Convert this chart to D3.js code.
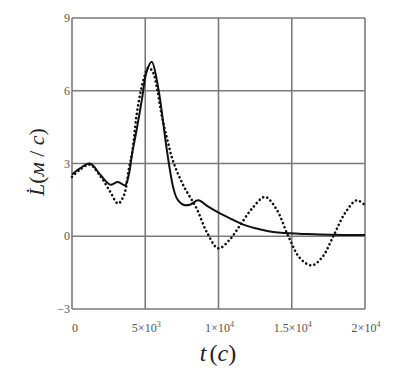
<!DOCTYPE html>
<html>
<head>
<meta charset="utf-8">
<script src="https://cdn.jsdelivr.net/npm/d3@7"></script>
<style>
  body { margin: 0; background: #fff; }
  svg { display: block; }
  text { font-family: "Liberation Serif", "Times New Roman", "DejaVu Serif", serif; }
</style>
</head>
<body>
<script>
// values
const solidT = [0, 546, 1229, 1911, 2594, 3140, 3618, 3900, 4100, 4416, 4760, 5100, 5440, 5891, 6200, 6464, 6915, 7170, 7600, 8055, 8621, 9300, 10100, 10900, 11690, 12600, 13515, 14880, 16000, 17610, 20000];
const solidV = [2.55, 2.8, 3.0, 2.55, 2.13, 2.24, 2.1, 2.6, 3.4, 4.4, 5.6, 6.8, 7.2, 6.1, 4.8, 3.6, 2.0, 1.55, 1.3, 1.3, 1.48, 1.22, 0.94, 0.7, 0.48, 0.32, 0.2, 0.12, 0.09, 0.06, 0.05];
const dotT = [0, 546, 1229, 1911, 2594, 3140, 3550, 3890, 4120, 4410, 4700, 4980, 5200, 5500, 5800, 6120, 6500, 6915, 7600, 8510, 9195, 9986, 10750, 11468, 12300, 13174, 13970, 14765, 15560, 16362, 17100, 17836, 18630, 19433, 20000];
const dotV = [2.45, 2.75, 2.95, 2.5, 1.85, 1.35, 1.7, 2.8, 3.5, 5.0, 6.0, 6.65, 6.95, 6.8, 6.1, 5.0, 4.0, 3.07, 2.1, 1.14, 0.18, -0.5, -0.15, 0.45, 1.15, 1.62, 1.1, 0.0, -0.9, -1.2, -0.85, 0.0, 0.95, 1.48, 1.28];
const xTicks = [0, 5000, 10000, 15000, 20000];
const xTickLabels = [["0", ""], ["5\u00d710", "3"], ["1\u00d710", "4"], ["1.5\u00d710", "4"], ["2\u00d710", "4"]];
const yTicks = [-3, 0, 3, 6, 9];
const yTickLabels = ["\u22123", "0", "3", "6", "9"];

const W = 398, H = 377;
const plotLeft = 72, plotRight = 365, plotTop = 18, plotBottom = 309;

const svg = d3.select("body").append("svg").attr("width", W).attr("height", H);

const x = d3.scaleLinear().domain([0, 20000]).range([plotLeft, plotRight]);
const y = d3.scaleLinear().domain([-3, 9]).range([plotBottom, plotTop]);

const gridColor = "#7a7a7a";

// grid lines
svg.append("g").selectAll("line").data(xTicks).join("line")
  .attr("x1", d => x(d)).attr("x2", d => x(d))
  .attr("y1", plotTop).attr("y2", plotBottom)
  .attr("stroke", gridColor).attr("stroke-width", 1.6);
svg.append("g").selectAll("line").data(yTicks).join("line")
  .attr("x1", plotLeft).attr("x2", plotRight)
  .attr("y1", d => y(d)).attr("y2", d => y(d))
  .attr("stroke", gridColor).attr("stroke-width", 1.6);

// tick labels
svg.append("g").selectAll("text").data(yTicks).join("text")
  .attr("x", plotLeft - 2).attr("y", d => y(d) + 4)
  .attr("text-anchor", "end")
  .attr("font-size", 12)
  .attr("fill", "#555")
  .text((d, i) => yTickLabels[i]);

const xl = svg.append("g").selectAll("text").data(xTicks).join("text")
  .attr("x", (d, i) => x(d) + (i === 0 ? 3 : 1)).attr("y", 332)
  .attr("text-anchor", "middle")
  .attr("font-size", 12)
  .attr("fill", "#555");
xl.append("tspan").text((d, i) => xTickLabels[i][0]);
xl.append("tspan").attr("dy", -5).attr("font-size", 8).text((d, i) => xTickLabels[i][1]);

// curves
const solidData = solidT.map((t, i) => [t, solidV[i]]);
const dotData = dotT.map((t, i) => [t, dotV[i]]);
const line = d3.line().x(d => x(d[0])).y(d => y(d[1])).curve(d3.curveCatmullRom.alpha(0.5));

svg.append("path").datum(dotData).attr("d", line)
  .attr("fill", "none").attr("stroke", "#111").attr("stroke-width", 2.6)
  .attr("stroke-dasharray", "0.1,4.2").attr("stroke-linecap", "round");
svg.append("path").datum(solidData).attr("d", line)
  .attr("fill", "none").attr("stroke", "#111").attr("stroke-width", 2);

// axis titles
svg.append("text")
  .attr("x", 218).attr("y", 361)
  .attr("text-anchor", "middle")
  .attr("font-size", 24)
  .attr("fill", "#222")
  .html('<tspan font-style="italic">t</tspan><tspan dx="3">(</tspan><tspan font-style="italic">c</tspan>)');

svg.append("text")
  .attr("transform", "translate(44,162) rotate(-90)")
  .attr("text-anchor", "middle")
  .attr("font-size", 22)
  .attr("fill", "#222")
  .html('<tspan font-style="italic">L\u0307</tspan>(<tspan font-style="italic">\u043c</tspan> / <tspan font-style="italic">c</tspan>)');
</script>
</body>
</html>
